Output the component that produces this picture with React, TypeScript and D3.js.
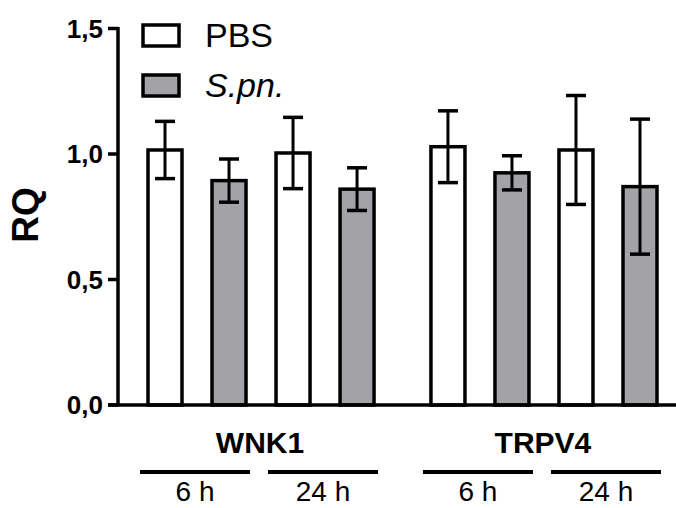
import React from "react";
import * as d3 from "d3";

const genes = ["WNK1", "TRPV4"];
const times = ["6 h", "24 h"];
const groups = ["PBS", "S.pn."];

// one value per gene x time (WNK1 6h, WNK1 24h, TRPV4 6h, TRPV4 24h)
const pbsMean = [1.016, 1.004, 1.029, 1.016];
const pbsErr = [0.114, 0.142, 0.143, 0.217];
const spnMean = [0.894, 0.86, 0.925, 0.87];
const spnErr = [0.086, 0.085, 0.068, 0.269];

const yTicks = [0, 0.5, 1, 1.5];
const yTickLabels = ["0,0", "0,5", "1,0", "1,5"];

const W = 676;
const H = 508;
const font = "Arial, 'Liberation Sans', Helvetica, sans-serif";
const gray = "#a3a3a7";

const App = () => {
  const y = d3.scaleLinear().domain([0, 1.5]).range([405, 28.5]);
  // slot index -> bar centre, extra gap between the two genes
  const gap = 0.42;
  const x = d3.scaleLinear().domain([0, 7 + gap]).range([165, 640]);
  const barW = 34;
  const capW = 20;
  const sw = 3.5;

  const bars: { slot: number; v: number; e: number; fill: string }[] = [];
  pbsMean.forEach((v, i) => {
    const g = Math.floor(i / 2);
    const t = i % 2;
    const base = g * 4 + t * 2 + g * gap;
    bars.push({ slot: base, v, e: pbsErr[i], fill: "#fff" });
    bars.push({ slot: base + 1, v: spnMean[i], e: spnErr[i], fill: gray });
  });

  const axisX = 118;

  return (
    <svg
      width={W}
      height={H}
      style={{ position: "absolute", left: 0, top: 0, background: "#fff" }}
      fontFamily={font}
    >
      <rect width={W} height={H} fill="#fff" />

      {/* bars */}
      {bars.map((b, i) => (
        <g key={i}>
          <rect
            x={x(b.slot) - barW / 2}
            y={y(b.v)}
            width={barW}
            height={y(0) - y(b.v)}
            fill={b.fill}
            stroke="#000"
            strokeWidth={sw}
          />
          <line x1={x(b.slot)} x2={x(b.slot)} y1={y(b.v + b.e)} y2={y(b.v - b.e)} stroke="#000" strokeWidth={3} />
          <line x1={x(b.slot) - capW / 2} x2={x(b.slot) + capW / 2} y1={y(b.v + b.e)} y2={y(b.v + b.e)} stroke="#000" strokeWidth={3.5} />
          <line x1={x(b.slot) - capW / 2} x2={x(b.slot) + capW / 2} y1={y(b.v - b.e)} y2={y(b.v - b.e)} stroke="#000" strokeWidth={3.5} />
        </g>
      ))}

      {/* axes */}
      <line x1={axisX} x2={axisX} y1={y(1.5) - 1.5} y2={y(0)} stroke="#000" strokeWidth={sw} />
      <line x1={108} x2={W} y1={y(0)} y2={y(0)} stroke="#000" strokeWidth={sw} />
      {yTicks.map((t, i) => (
        <g key={t}>
          <line x1={108} x2={axisX} y1={y(t)} y2={y(t)} stroke="#000" strokeWidth={sw} />
          <text x={103} y={y(t) + 9} textAnchor="end" fontSize={26} fontWeight="bold">
            {yTickLabels[i]}
          </text>
        </g>
      ))}
      <text
        transform={`translate(38, 215) rotate(-90)`}
        textAnchor="middle"
        fontSize={37}
        fontWeight="bold"
      >
        RQ
      </text>

      {/* category labels */}
      {genes.map((g, gi) => {
        const first = gi * 4 + gi * gap;
        const cx = (x(first) + x(first + 3)) / 2;
        return (
          <text key={g} x={cx - 1} y={453} textAnchor="middle" fontSize={30} fontWeight="bold">
            {g}
          </text>
        );
      })}
      {genes.map((g, gi) =>
        times.map((t, ti) => {
          const s = gi * 4 + ti * 2 + gi * gap;
          const x1 = x(s) - 25;
          const x2 = x(s + 1) + 21;
          return (
            <g key={g + t}>
              <line x1={x1} x2={x2} y1={472} y2={472} stroke="#000" strokeWidth={4} />
              <text x={(x1 + x2) / 2} y={501} textAnchor="middle" fontSize={28}>
                {t}
              </text>
            </g>
          );
        })
      )}

      {/* legend */}
      {groups.map((g, i) => (
        <g key={g} transform={`translate(0, ${i * 50})`}>
          <rect x={143} y={25} width={36} height={21} fill={i === 0 ? "#fff" : gray} stroke="#000" strokeWidth={3.5} />
          <text x={205} y={47} fontSize={34} fontStyle={i === 1 ? "italic" : "normal"}>
            {g}
          </text>
        </g>
      ))}
    </svg>
  );
};

export default App;
